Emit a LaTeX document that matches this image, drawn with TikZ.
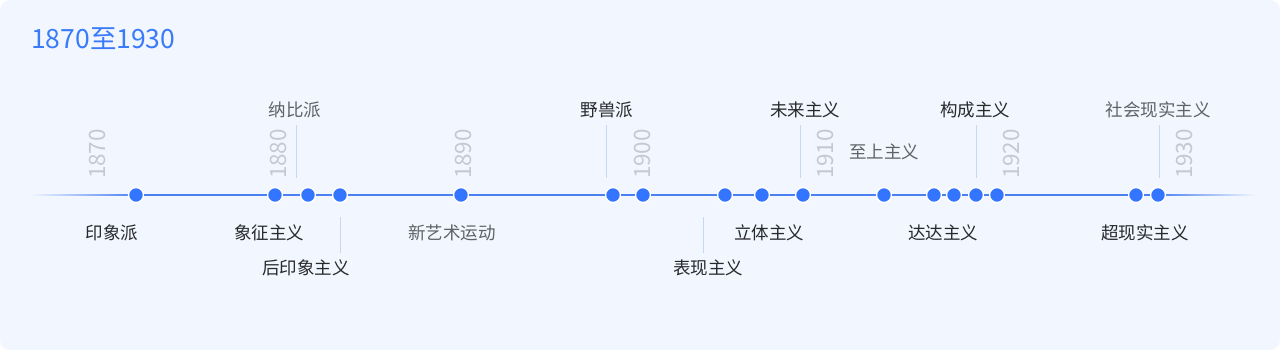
\documentclass[tikz,border=0pt]{standalone}
\usepackage{fontspec}
\setmainfont{Noto Sans CJK SC}
\usetikzlibrary{calc}
\definecolor{bgcol}{RGB}{241,246,255}
\definecolor{titlecol}{RGB}{58,123,250}
\definecolor{dotcol}{RGB}{51,117,255}
\definecolor{linecol}{RGB}{74,128,240}
\definecolor{leadcol}{RGB}{198,214,245}
\definecolor{yearcol}{RGB}{197,201,209}
\definecolor{darkcol}{RGB}{40,41,43}
\definecolor{greycol}{RGB}{96,98,102}

\begin{document}
\begin{tikzpicture}[
    x=1pt, y=-1pt,
    dot/.style={circle, inner sep=0pt, minimum size=15pt, fill=dotcol, draw=white, line width=1.4pt},
    mainline/.style={linecol, line width=1.2pt},
    leader/.style={leadcol, line width=1pt},
    year/.style={rotate=90, text=yearcol, font=\fontsize{22.5}{24}\selectfont},
    movement/.style={text=darkcol, inner sep=0pt, font=\fontsize{17.5}{20}\selectfont},
    minor/.style={movement, text=greycol},
]
\useasboundingbox (0,0) rectangle (1280,350);
\fill[bgcol, rounded corners=10pt] (0,0) rectangle (1280,350);

\node[anchor=west, inner sep=0pt, text=titlecol, font=\fontsize{26.5}{28}\selectfont] (title) at (31,39) {1870至1930};

% decade marks
\foreach \yr/\xx in {1870/97, 1880/278, 1890/463, 1900/642, 1910/825, 1920/1011, 1930/1184} {
    \node[year] (y\yr) at (\xx,154) {\yr};
}

% the time line
\coordinate (lstart) at (30,195);
\coordinate (lend) at (1255,195);
\foreach \xx [count=\i] in {136,275,308,340,461,613,643,725,762,803,884,934,954,976,997,1136,1158} {
    \coordinate (p\i) at (\xx,195);
}
\shade[left color=bgcol, right color=linecol] ($(lstart)+(0,-0.6)$) rectangle ($(p1)+(0,0.6)$);
\shade[left color=linecol, right color=bgcol] ($(p17)+(0,-0.6)$) rectangle ($(lend)+(0,0.6)$);
\foreach \i in {1,...,17} {
    \node[dot] (d\i) at (p\i) {};
}
\foreach \i [evaluate=\i as \j using int(\i+1)] in {1,...,16} {
    \draw[mainline] (d\i) -- (d\j);
}

% labels above
\node[minor] (nabi) at (295,110) {纳比派};
\node[movement] (fauve) at (607,110) {野兽派};
\node[movement] (futur) at (805,110) {未来主义};
\node[movement] (constr) at (975,110) {构成主义};
\node[minor] (socreal) at (1158,110) {社会现实主义};
\node[minor] (suprem) at (884,152) {至上主义};

% labels below
\node[movement] (impr) at (112,233) {印象派};
\node[movement] (symb) at (269,233) {象征主义};
\node[minor] (nouveau) at (452,233) {新艺术运动};
\node[movement] (cubism) at (769,233) {立体主义};
\node[movement] (dada) at (943,233) {达达主义};
\node[movement] (surreal) at (1145,233) {超现实主义};
\node[movement] (postimpr) at (306,268) {后印象主义};
\node[movement] (expr) at (708,268) {表现主义};

% leader lines
\foreach \nm/\xx in {nabi/296, fauve/606, futur/800, constr/976, socreal/1159} {
    \coordinate (\nm A) at (\xx,125);
    \coordinate (\nm B) at (\xx,178);
    \draw[leader] (\nm A) -- (\nm B);
}
\foreach \nm/\xx in {postimpr/340, expr/703} {
    \coordinate (\nm A) at (\xx,217);
    \coordinate (\nm B) at (\xx,253);
    \draw[leader] (\nm A) -- (\nm B);
}
\end{tikzpicture}
\end{document}
